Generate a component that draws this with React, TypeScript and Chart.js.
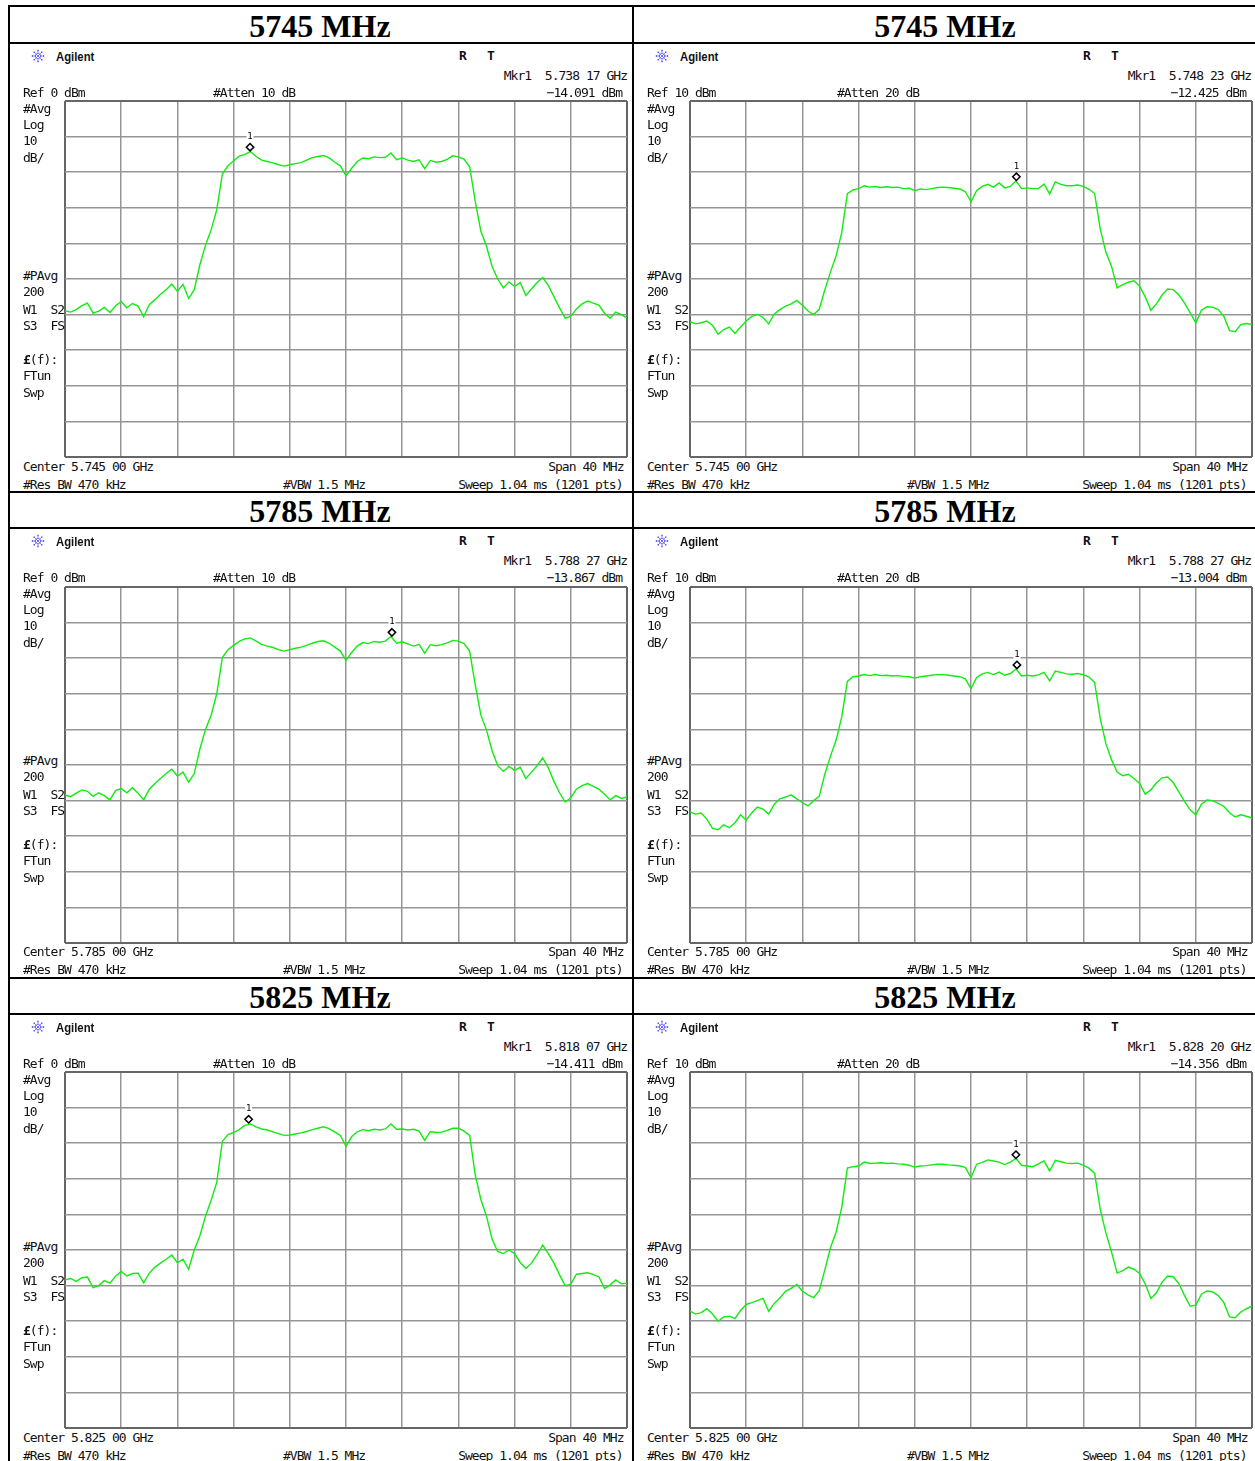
import React, { useEffect, useRef } from 'react';
import { Chart, registerables } from 'chart.js';

Chart.register(...registerables);

// Frequency offset from centre (MHz), one sample every 0.4 MHz across the 40 MHz span
const FREQ_OFFSET_MHZ: number[] = Array.from({ length: 101 }, (_, i) => Math.round((-20 + i * 0.4) * 10) / 10);

// Trace levels (dBm), one value per FREQ_OFFSET_MHZ sample
const TRACE_5745_REF0 = [
  -58.9, -59.3, -58.6, -57.5, -56.8, -59.6, -59.0, -58.0, -59.4, -57.5,
  -56.4, -58.1, -56.9, -57.6, -60.6, -57.2, -55.8, -54.3, -53.0, -51.4,
  -53.5, -51.5, -55.5, -53.0, -46.0, -40.5, -36.2, -30.6, -20.5, -18.2,
  -16.8, -15.5, -15.0, -14.2, -15.6, -16.6, -17.0, -17.4, -17.9, -18.3,
  -17.9, -17.6, -17.3, -16.6, -15.9, -15.6, -15.3, -16.0, -17.2, -18.2,
  -21.0, -18.9, -17.0, -16.0, -16.2, -15.7, -15.9, -15.8, -14.6, -16.5,
  -16.0, -16.6, -17.0, -16.5, -19.0, -16.7, -17.2, -17.0, -16.4, -15.4,
  -15.7, -16.3, -18.5, -28.2, -36.6, -40.8, -46.5, -50.0, -52.5, -50.8,
  -52.1, -51.0, -54.6, -52.8, -51.0, -49.6, -51.8, -55.0, -58.1, -61.0,
  -60.5, -58.4, -57.0, -56.2, -56.8, -57.3, -59.6, -61.0, -59.3, -60.0,
  -61.0,
];
const TRACE_5745_REF10 = [
  -52.0, -52.6, -52.3, -51.8, -53.0, -55.5, -54.2, -53.5, -55.3, -53.5,
  -51.8, -50.5, -49.9, -50.8, -52.6, -49.8, -48.6, -47.6, -47.0, -46.0,
  -47.4, -49.0, -50.0, -48.5, -43.0, -38.0, -33.5, -27.0, -16.0, -15.0,
  -14.6, -13.8, -14.2, -14.0, -14.3, -14.1, -14.3, -14.2, -14.6, -14.5,
  -15.2, -14.7, -14.9, -14.6, -14.3, -14.2, -14.3, -14.5, -14.7, -15.5,
  -18.3, -15.2, -14.0, -13.4, -14.2, -13.0, -14.4, -14.0, -12.4, -14.6,
  -14.4, -14.6, -14.6, -13.3, -16.1, -12.7, -13.4, -13.8, -13.8, -13.6,
  -14.0, -14.8, -16.0, -26.0, -32.5, -36.4, -42.5, -41.6, -40.9, -40.5,
  -42.0, -45.0, -48.8, -47.0, -44.5, -42.8, -43.0, -44.5, -46.8, -49.5,
  -52.3, -48.8, -47.8, -47.9, -48.6, -50.5, -54.5, -54.8, -52.8, -52.5,
  -52.8,
];
const TRACE_5785_REF0 = [
  -58.4, -58.9, -57.9, -57.0, -57.4, -58.8, -57.8, -58.6, -59.8, -57.2,
  -56.6, -57.8, -56.4, -57.9, -59.8, -56.8, -55.2, -53.8, -52.4, -51.2,
  -53.1, -52.0, -54.8, -52.4, -45.5, -40.0, -36.0, -30.0, -19.8, -17.6,
  -16.4, -15.3, -14.6, -14.3, -15.2, -16.1, -16.6, -17.0, -17.6, -18.0,
  -17.6, -17.2, -16.9, -16.4, -15.8, -15.3, -15.1, -15.8, -16.9, -18.0,
  -20.6, -18.4, -16.6, -15.6, -15.9, -15.3, -15.5, -15.2, -13.9, -15.8,
  -15.4, -16.0, -16.6, -16.1, -18.6, -16.2, -16.5, -16.2, -15.7, -15.0,
  -15.2, -15.9, -18.0, -27.5, -36.0, -40.2, -46.0, -50.2, -51.8, -50.4,
  -51.5, -50.6, -53.8, -52.0, -50.2, -48.0, -50.8, -54.6, -57.8, -60.4,
  -59.2, -56.8, -55.8, -55.2, -56.0, -56.8, -58.2, -59.8, -58.6, -59.4,
  -59.0,
];
const TRACE_5785_REF10 = [
  -53.2, -53.8, -53.5, -55.2, -57.8, -58.2, -56.8, -57.6, -56.2, -54.0,
  -55.5, -53.4, -51.8, -52.4, -53.8, -51.0, -49.5, -49.0, -48.4, -49.5,
  -50.6, -51.5, -50.0, -48.8, -42.5, -37.5, -33.0, -26.5, -16.5, -15.2,
  -15.0, -14.6, -14.9, -14.6, -14.9, -14.8, -15.0, -14.9, -15.1, -15.2,
  -15.6, -15.2, -15.0, -14.8, -14.6, -14.6, -14.8, -15.0, -15.2, -15.8,
  -18.6, -15.4, -14.4, -14.0, -14.6, -13.9, -14.8, -14.3, -13.0, -15.0,
  -14.8, -15.0, -14.7, -14.0, -16.4, -13.6, -14.0, -14.4, -14.5, -14.3,
  -14.6, -15.3, -16.8, -27.0, -34.0, -38.5, -42.0, -43.0, -42.6, -43.8,
  -45.2, -48.2, -47.0, -45.0, -43.6, -43.4, -45.0, -47.6, -50.2, -52.6,
  -54.0, -51.0, -49.8, -50.0, -50.8, -51.6, -53.4, -54.6, -54.0, -54.4,
  -54.9,
];
const TRACE_5825_REF0 = [
  -58.4, -58.0, -58.8, -57.8, -57.6, -60.6, -60.0, -58.6, -59.3, -57.4,
  -56.0, -57.3, -56.6, -56.5, -59.2, -56.5, -54.8, -53.7, -52.6, -51.4,
  -53.6, -52.6, -55.4, -50.0, -46.0, -40.5, -36.0, -31.0, -19.5, -17.6,
  -17.0, -16.2, -15.0, -14.6, -15.4, -16.0, -16.3, -16.8, -17.3, -17.8,
  -17.7, -17.4, -17.1, -16.7, -16.2, -15.8, -15.4, -15.9, -16.8, -17.8,
  -20.9, -18.2, -16.8, -16.2, -16.5, -16.1, -16.3, -16.0, -14.6, -16.1,
  -16.0, -16.3, -16.1, -16.6, -19.2, -16.7, -17.0, -16.9, -16.4, -15.8,
  -15.8, -16.6, -17.8, -29.0, -35.8, -40.5, -47.0, -50.4, -51.0, -50.0,
  -51.0, -53.5, -55.2, -53.7, -51.3, -48.6, -51.0, -53.7, -57.0, -60.0,
  -59.6, -56.8, -56.6, -56.4, -56.9, -57.5, -60.8, -59.8, -58.4, -59.5,
  -59.3,
];
const TRACE_5825_REF10 = [
  -57.2, -58.0, -57.6, -56.5, -58.0, -60.0, -58.8, -58.6, -59.3, -57.0,
  -55.3, -54.8, -54.2, -53.6, -57.2, -55.0, -53.5, -51.6, -50.8, -49.7,
  -51.6, -52.6, -53.4, -51.4, -45.5, -39.3, -35.0, -28.0, -17.0, -16.6,
  -16.4, -15.3, -15.7, -15.6, -15.5, -15.7, -15.6, -15.8, -15.9, -16.2,
  -16.7, -16.4, -16.3, -16.1, -15.9, -15.9, -16.1, -16.2, -16.4, -16.8,
  -19.7, -15.9, -15.4, -14.7, -15.0, -15.3, -16.0, -15.3, -14.3, -16.2,
  -16.4, -16.6, -15.8, -15.0, -17.8, -14.8, -15.2, -15.6, -15.7, -15.6,
  -16.2, -17.0, -18.5, -28.6, -35.2, -40.5, -46.5, -45.8, -44.8, -45.4,
  -46.6, -49.5, -53.6, -52.0, -49.0, -47.3, -47.5, -49.5, -52.8, -55.8,
  -55.5, -52.4, -51.5, -51.8, -52.8, -54.8, -58.8, -59.0, -57.4, -56.5,
  -55.8,
];

// Per row (channel) and column (left: Ref 0 dBm, right: Ref 10 dBm)
const CHANNEL_TITLES = ['5745 MHz', '5785 MHz', '5825 MHz'];
const CENTER_FREQ_TEXT = ['5.745 00', '5.785 00', '5.825 00'];
const REF_LEVEL_DBM = [0, 10];
const ATTEN_DB = [10, 20];
const TRACES = [
  [TRACE_5745_REF0, TRACE_5745_REF10],
  [TRACE_5785_REF0, TRACE_5785_REF10],
  [TRACE_5825_REF0, TRACE_5825_REF10],
];
const MARKER_OFFSET_MHZ = [[-6.83, 3.23], [3.27, 3.27], [-6.93, 3.2]];
const MARKER_LEVEL_DBM = [[-14.091, -12.425], [-13.867, -13.004], [-14.411, -14.356]];
const MARKER_FREQ_TEXT = [['5.738 17', '5.748 23'], ['5.788 27', '5.788 27'], ['5.818 07', '5.828 20']];

const MONO = '"DejaVu Sans Mono", monospace';

const markerPlugin = {
  id: 'mkr',
  afterDatasetsDraw(chart: any, _args: any, opts: any) {
    const { ctx, scales } = chart;
    const x = scales.x.getPixelForValue(opts.freq);
    const y = scales.y.getPixelForValue(opts.level);
    ctx.save();
    const cy = y - 4;
    const h = 3.7;
    ctx.beginPath();
    ctx.moveTo(x, cy - h);
    ctx.lineTo(x + h, cy);
    ctx.lineTo(x, cy + h);
    ctx.lineTo(x - h, cy);
    ctx.closePath();
    ctx.fillStyle = '#fff';
    ctx.fill();
    ctx.strokeStyle = '#000';
    ctx.lineWidth = 1.5;
    ctx.stroke();
    ctx.font = `9px ${MONO}`;
    ctx.textAlign = 'center';
    ctx.textBaseline = 'middle';
    ctx.fillStyle = '#fff';
    ctx.fillRect(x - 3.5, y - 19, 7, 9);
    ctx.fillStyle = '#000';
    ctx.fillText('1', x, y - 14.5);
    ctx.restore();
  },
};

const gridColor = (c: any) => (c.index === 0 || c.index === 10 ? '#666666' : '#969696');
const gridWidth = (c: any) => (c.index === 0 || c.index === 10 ? 2 : 1.5);

function SpectrumChart({ left, top, trace, refLevel, mFreq, mLevel }: any) {
  const ref = useRef<HTMLCanvasElement>(null);
  useEffect(() => {
    const chart = new Chart(ref.current as HTMLCanvasElement, {
      type: 'line',
      data: {
        datasets: [
          {
            data: FREQ_OFFSET_MHZ.map((f, i) => ({ x: f, y: trace[i] })),
            borderColor: '#10ec10',
            borderWidth: 1.4,
            pointRadius: 0,
            tension: 0,
            fill: false,
          },
        ],
      },
      options: {
        animation: false,
        responsive: false,
        maintainAspectRatio: false,
        layout: { padding: 2 },
        plugins: {
          legend: { display: false },
          tooltip: { enabled: false },
          mkr: { freq: mFreq, level: mLevel },
        } as any,
        scales: {
          x: {
            type: 'linear',
            min: -20,
            max: 20,
            ticks: { stepSize: 4, display: false },
            grid: { color: gridColor, lineWidth: gridWidth, drawTicks: false },
            border: { display: false },
          },
          y: {
            type: 'linear',
            min: refLevel - 100,
            max: refLevel,
            ticks: { stepSize: 10, display: false },
            grid: { color: gridColor, lineWidth: gridWidth, drawTicks: false },
            border: { display: false },
          },
        },
      },
      plugins: [markerPlugin],
    });
    return () => chart.destroy();
  }, []);
  return (
    <canvas
      ref={ref}
      width={566}
      height={360}
      style={{ position: 'absolute', left, top, width: 566, height: 360 }}
    />
  );
}

function Txt({ x, y, s, right, bold, children }: any) {
  return (
    <div
      style={{
        position: 'absolute',
        left: x,
        top: y - 6.25,
        fontFamily: MONO,
        fontSize: 13,
        lineHeight: '13px',
        letterSpacing: '-0.98px',
        whiteSpace: 'pre',
        color: '#111',
        fontWeight: bold ? 'bold' : 'normal',
        transform: right ? 'translateX(-100%)' : undefined,
      }}
    >
      {children ?? s}
    </div>
  );
}

function Logo({ x, y }: any) {
  const rays = [0, 45, 90, 135, 180, 225, 270, 315];
  return (
    <svg style={{ position: 'absolute', left: x - 8, top: y - 8 }} width={16} height={16} viewBox="-8 -8 16 16">
      {rays.map((a) => {
        const r = (a * Math.PI) / 180;
        return (
          <line key={a} x1={Math.cos(r) * 2} y1={Math.sin(r) * 2} x2={Math.cos(r) * 6.5} y2={Math.sin(r) * 6.5}
            stroke="#3b3bf0" strokeWidth={1.3} strokeDasharray="1.6 1" />
        );
      })}
      <circle cx={0} cy={0} r={1} fill="#3b3bf0" />
    </svg>
  );
}

function Panel({ row, col }: any) {
  const dx = col * 624;
  const dy = [0, 485, 971][row];
  const gx = 65 + col * 625;
  const gy = [101, 587, 1072][row];
  const refLevel = REF_LEVEL_DBM[col];
  const X = (v: number) => v + dx;
  const Y = (v: number) => v + dy;
  return (
    <>
      <SpectrumChart
        left={gx - 2}
        top={gy - 2}
        trace={TRACES[row][col]}
        refLevel={refLevel}
        mFreq={MARKER_OFFSET_MHZ[row][col]}
        mLevel={MARKER_LEVEL_DBM[row][col]}
      />
      <Logo x={X(38)} y={Y(56)} />
      <div
        style={{
          position: 'absolute',
          left: X(56),
          top: Y(56) - 6.35,
          fontFamily: '"Liberation Sans", Arial, sans-serif',
          fontWeight: 'bold',
          fontSize: 13,
          lineHeight: '13px',
          transform: 'scaleX(0.87)',
          transformOrigin: 'left center',
          color: '#111',
        }}
      >
        Agilent
      </div>
      <Txt x={X(459)} y={Y(55.5)} s="R" bold />
      <Txt x={X(487)} y={Y(55.5)} s="T" bold />
      <Txt x={X(627)} y={Y(75)} s={`Mkr1  ${MARKER_FREQ_TEXT[row][col]} GHz`} right />
      <Txt x={X(622)} y={Y(92)} s={`${MARKER_LEVEL_DBM[row][col].toFixed(3).replace('-', '\u2212')} dBm`} right />
      <Txt x={X(23)} y={Y(92)} s={`Ref ${refLevel} dBm`} />
      <Txt x={X(213)} y={Y(92)} s={`#Atten ${ATTEN_DB[col]} dB`} />
      <Txt x={X(23)} y={Y(108)} s="#Avg" />
      <Txt x={X(23)} y={Y(124.5)} s="Log" />
      <Txt x={X(23)} y={Y(140.5)} s="10" />
      <Txt x={X(23)} y={Y(157.5)} s="dB/" />
      <Txt x={X(23)} y={Y(275.7)} s="#PAvg" />
      <Txt x={X(23)} y={Y(291.7)} s="200" />
      <Txt x={X(23)} y={Y(309)} s="W1  S2" />
      <Txt x={X(23)} y={Y(325.3)} s="S3  FS" />
      <Txt x={X(23)} y={Y(359)}>
        <b>£</b>(f):
      </Txt>
      <Txt x={X(23)} y={Y(375.3)} s="FTun" />
      <Txt x={X(23)} y={Y(392)} s="Swp" />
      <Txt x={X(23)} y={Y(466)} s={`Center ${CENTER_FREQ_TEXT[row]} GHz`} />
      <Txt x={X(623.5)} y={Y(466.5)} s="Span 40 MHz" right />
      <Txt x={X(23)} y={Y(484)} s="#Res BW 470 kHz" />
      <Txt x={X(283)} y={Y(484)} s="#VBW 1.5 MHz" />
      <Txt x={X(622.5)} y={Y(484.5)} s="Sweep 1.04 ms (1201 pts)" right />
    </>
  );
}

function HLine({ y }: any) {
  return <div style={{ position: 'absolute', left: 8, top: y, width: 1247, height: 2, background: '#000' }} />;
}
function VLine({ x }: any) {
  return <div style={{ position: 'absolute', left: x, top: 5, width: 2, height: 1456, background: '#000' }} />;
}

export default function App() {
  return (
    <div style={{ position: 'absolute', left: 0, top: 0, width: 1255, height: 1461, overflow: 'hidden', background: '#fff' }}>
      {[5, 42, 491, 527, 977, 1013].map((y) => (
        <HLine key={y} y={y} />
      ))}
      <VLine x={8} />
      <VLine x={632} />
      {CHANNEL_TITLES.map((t, r) =>
        [320, 945].map((cx) => (
          <div
            key={`${t}-${cx}`}
            style={{
              position: 'absolute',
              left: cx,
              top: [9.6, 495.3, 980.8][r],
              transform: 'translateX(-50%)',
              fontFamily: '"Liberation Serif", "Times New Roman", serif',
              fontWeight: 'bold',
              fontSize: 32,
              lineHeight: '32px',
              whiteSpace: 'nowrap',
              color: '#000',
            }}
          >
            {t}
          </div>
        ))
      )}
      {[0, 1, 2].map((r) => [0, 1].map((c) => <Panel key={`${r}-${c}`} row={r} col={c} />))}
    </div>
  );
}
